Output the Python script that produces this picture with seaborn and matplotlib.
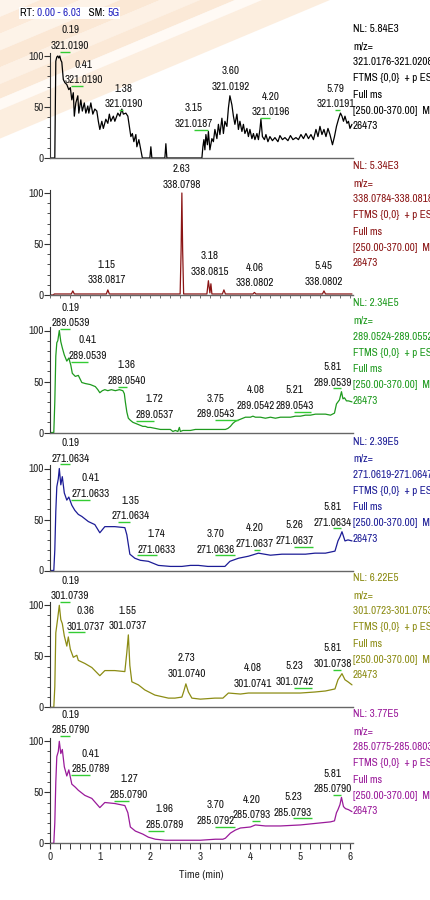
import matplotlib
matplotlib.use("Agg")
import matplotlib.pyplot as plt
import seaborn as sns
import pandas as pd
from matplotlib.patches import Polygon
from matplotlib.ticker import MultipleLocator, FixedLocator

sns.set_theme(style="white")
plt.rcParams["font.family"] = ["Archivo Narrow", "Liberation Sans Narrow", "DejaVu Sans"]

# ---------------- data ----------------
t1 = [0, 0.09, 0.11, 0.13, 0.15, 0.17, 0.19, 0.21, 0.23, 0.26, 0.29, 0.33, 0.37, 0.40, 0.43, 0.46, 0.48,
      0.51, 0.55, 0.57, 0.61, 0.64, 0.68, 0.71, 0.75, 0.77, 0.81, 0.85, 0.89, 0.93, 0.96, 0.99, 1.03,
      1.06, 1.11, 1.15, 1.18, 1.21, 1.26, 1.29, 1.35, 1.39, 1.43, 1.46, 1.51, 1.55, 1.58, 1.61, 1.64,
      1.67, 1.71, 1.73, 1.77, 1.81, 1.84, 1.99, 2.01, 2.03, 2.29, 2.31, 2.33, 3.03, 3.05, 3.07, 3.09,
      3.11, 3.14, 3.16, 3.19, 3.23, 3.26, 3.29, 3.33, 3.36, 3.39, 3.43, 3.46, 3.49, 3.53, 3.56, 3.59,
      3.63, 3.66, 3.69, 3.73, 3.76, 3.79, 3.83, 3.86, 3.89, 3.93, 3.96, 3.99, 4.03, 4.06, 4.09, 4.13,
      4.16, 4.19, 4.21, 4.24, 4.28, 4.31, 4.35, 4.39, 4.44, 4.49, 4.55, 4.59, 4.64, 4.69, 4.75, 4.80,
      4.85, 4.91, 4.96, 5.01, 5.06, 5.11, 5.16, 5.21, 5.26, 5.31, 5.35, 5.39, 5.43, 5.47, 5.51, 5.55,
      5.59, 5.64, 5.68, 5.72, 5.76, 5.80, 5.83, 5.86, 5.89, 5.93, 5.96, 5.99, 6.03]
i1 = [0, 0, 95, 99, 100, 98, 100, 96, 94, 77, 74, 72, 67, 69, 57, 64, 41,
      54, 61, 44, 57, 46, 54, 44, 51, 44, 54, 43, 48, 46, 36, 28, 36,
      29, 38, 34, 43, 36, 41, 36, 44, 41, 48, 43, 44, 41, 31, 21, 24,
      16, 23, 11, 18, 8, 0, 0, 11, 0, 0, 14, 0, 0, 11, 18, 8,
      23, 13, 26, 8, 19, 16, 28, 19, 33, 23, 39, 24, 36, 31, 49, 61,
      52, 41, 33, 43, 28, 36, 26, 33, 24, 29, 21, 28, 19, 24, 18, 24,
      18, 28, 38, 21, 18, 23, 16, 21, 17, 20, 16, 22, 18, 20, 17, 22,
      18, 20, 18, 23, 19, 24, 19, 23, 18, 28, 21, 31, 23, 28, 21, 29,
      23, 13, 21, 31, 38, 44, 41, 36, 41, 34, 36, 29, 33]

t2 = [0, 0.06, 0.08, 0.42, 0.45, 0.48, 1.12, 1.15, 1.18, 2.595, 2.615, 2.63, 2.645, 2.665, 3.13,
      3.16, 3.19, 3.21, 3.23, 3.44, 3.47, 3.50, 4.05, 4.08, 4.11, 5.44, 5.47, 5.50, 6.03]
i2 = [0, 0, 1, 1, 4, 1, 1, 5, 1, 1, 45, 100, 45, 1, 1,
      14, 2, 11, 1, 1, 5, 1, 1, 2.5, 1, 1, 4, 1, 1]

t3 = [0, 0.07, 0.09, 0.11, 0.13, 0.15, 0.18, 0.21, 0.24, 0.28, 0.33, 0.37, 0.41, 0.44, 0.50, 0.56,
      0.63, 0.70, 0.80, 0.90, 0.95, 0.99, 1.04, 1.09, 1.15, 1.22, 1.30, 1.38, 1.45, 1.48, 1.50, 1.53,
      1.56, 1.60, 1.65, 1.70, 1.75, 1.80, 1.85, 1.90, 1.95, 2.00, 2.10, 2.20, 2.30, 2.40, 2.45, 2.50,
      2.55, 2.58, 2.60, 2.65, 2.70, 2.80, 2.90, 3.00, 3.20, 3.40, 3.50, 3.55, 3.60, 3.65, 3.70, 3.75,
      3.80, 3.90, 4.00, 4.05, 4.10, 4.20, 4.30, 4.40, 4.50, 4.60, 4.70, 4.80, 4.90, 5.00, 5.10, 5.20,
      5.30, 5.40, 5.50, 5.60, 5.68, 5.72, 5.75, 5.78, 5.82, 5.85, 5.88, 5.92, 5.96, 6.03]
i3 = [0, 0, 30, 75, 88, 90, 100, 89, 83, 76, 70, 73, 66, 58, 55, 56,
      49, 48, 47, 45, 42, 39, 41, 42, 41, 42, 41, 42, 41, 38, 30, 20,
      14, 12, 10, 9, 8, 7, 6, 6, 5, 5, 4, 3, 3, 3, 1, 2,
      1, 5, 1, 2, 2, 2, 3, 3, 3, 3, 3, 4, 6, 9, 11, 12,
      13, 15, 15, 16, 15, 15, 14, 15, 14, 15, 15, 15, 16, 16, 17, 17,
      18, 18, 18, 17, 19, 28, 30, 32, 40, 33, 34, 31, 31, 30]

t4 = [0, 0.07, 0.09, 0.11, 0.13, 0.16, 0.18, 0.21, 0.24, 0.28, 0.33, 0.37, 0.43, 0.49, 0.56, 0.63,
      0.76, 0.89, 0.99, 1.09, 1.29, 1.49, 1.53, 1.59, 1.69, 1.80, 1.96, 2.16, 2.40, 2.63, 2.80, 2.96,
      3.15, 3.29, 3.49, 3.59, 3.76, 3.96, 4.16, 4.40, 4.63, 4.90, 5.10, 5.29, 5.50, 5.69, 5.75, 5.79,
      5.83, 5.89, 5.95, 6.03]
i4 = [0, 0, 20, 58, 82, 90, 100, 84, 92, 76, 69, 72, 64, 59, 55, 53,
      48, 45, 37, 43, 43, 42, 35, 16, 12, 10, 9, 5, 4, 4, 5, 5,
      4, 4, 4, 9, 12, 14, 17, 15, 16, 16, 16, 17, 17, 19, 29, 33,
      38, 29, 30, 29]

t5 = [0, 0.07, 0.09, 0.11, 0.15, 0.18, 0.21, 0.24, 0.28, 0.33, 0.36, 0.40, 0.46, 0.53, 0.56, 0.69,
      0.83, 0.99, 1.09, 1.29, 1.49, 1.53, 1.56, 1.59, 1.63, 1.76, 1.89, 2.09, 2.36, 2.49, 2.63, 2.67,
      2.71, 2.76, 2.83, 3.00, 3.29, 3.45, 3.56, 3.80, 3.96, 4.30, 4.63, 5.00, 5.29, 5.50, 5.69, 5.75,
      5.79, 5.83, 5.89, 5.95, 6.03]
i5 = [0, 0, 20, 73, 88, 100, 86, 82, 70, 60, 69, 57, 49, 51, 46, 43,
      39, 31, 36, 36, 35, 54, 71, 41, 25, 22, 17, 12, 9, 9, 10, 16,
      23, 15, 9, 8, 9, 9, 14, 13, 14, 14, 14, 14, 15, 16, 18, 27,
      30, 33, 27, 25, 22]

t6 = [0, 0.07, 0.09, 0.11, 0.13, 0.16, 0.18, 0.21, 0.24, 0.28, 0.33, 0.37, 0.43, 0.50, 0.56, 0.69,
      0.83, 0.99, 1.09, 1.29, 1.49, 1.55, 1.60, 1.70, 1.85, 1.96, 2.10, 2.30, 2.50, 2.70, 3.00, 3.30,
      3.45, 3.50, 3.60, 3.70, 3.80, 4.00, 4.10, 4.30, 4.60, 5.00, 5.20, 5.40, 5.60, 5.68, 5.72, 5.75,
      5.79, 5.82, 5.86, 5.90, 5.96, 6.03]
i6 = [0, 0, 20, 60, 85, 90, 100, 88, 92, 75, 66, 72, 58, 55, 52, 47,
      44, 35, 40, 39, 37, 30, 16, 12, 9, 6, 4, 3, 3, 3, 3, 4,
      4, 5, 10, 13, 15, 16, 18, 17, 17, 18, 19, 20, 21, 22, 30, 33,
      38, 45, 36, 34, 33, 31]

rt_labels = [
    ["0.19", "0.41", "1.38", "3.15", "3.60", "4.20", "5.79"],
    ["1.15", "2.63", "3.18", "4.06", "5.45"],
    ["0.19", "0.41", "1.36", "1.72", "3.75", "4.08", "5.21", "5.81"],
    ["0.19", "0.41", "1.35", "1.74", "3.70", "4.20", "5.26", "5.81"],
    ["0.19", "0.36", "1.55", "2.73", "4.08", "5.23", "5.81"],
    ["0.19", "0.41", "1.27", "1.96", "3.70", "4.20", "5.23", "5.81"],
]
mz_labels = [
    ["321.0190", "321.0190", "321.0190", "321.0187", "321.0192", "321.0196", "321.0191"],
    ["338.0817", "338.0798", "338.0815", "338.0802", "338.0802"],
    ["289.0539", "289.0539", "289.0540", "289.0537", "289.0543", "289.0542", "289.0543", "289.0539"],
    ["271.0634", "271.0633", "271.0634", "271.0633", "271.0636", "271.0637", "271.0637", "271.0634"],
    ["301.0739", "301.0737", "301.0737", "301.0740", "301.0741", "301.0742", "301.0738"],
    ["285.0790", "285.0789", "285.0790", "285.0789", "285.0792", "285.0793", "285.0793", "285.0790"],
]
nl_values = ["5.84E3", "5.34E3", "2.34E5", "2.39E5", "6.22E5", "3.77E5"]
mz_ranges = ["321.0176-321.0208", "338.0784-338.0818", "289.0524-289.0552",
             "271.0619-271.0647", "301.0723-301.0753", "285.0775-285.0803"]
x_ticks = [0, 1, 2, 3, 4, 5, 6]
y_ticks = [0, 50, 100]

# ---------------- layout (label placement, not data) ----------------
lab_x = [
    [0.40, 0.66, 1.46, 2.87, 3.60, 4.40, 5.70],
    [1.13, 2.63, 3.19, 4.08, 5.47],
    [0.40, 0.75, 1.53, 2.08, 3.30, 4.10, 4.88, 5.65],
    [0.40, 0.80, 1.60, 2.13, 3.30, 4.08, 4.88, 5.65],
    [0.40, 0.70, 1.55, 2.73, 4.05, 4.88, 5.65],
    [0.40, 0.80, 1.57, 2.28, 3.30, 4.03, 4.85, 5.65],
]
lab_y = [
    [110, 76, 52.5, 33.5, 70, 45, 52.5],
    [14.7, 108, 23, 11.4, 13],
    [107, 75, 50.5, 17.2, 18.1, 26, 26, 48.8],
    [109.8, 75, 53, 20.5, 20.5, 26, 29, 47],
    [109, 79, 79.7, 33, 23, 25, 42.5],
    [111, 72.5, 47.4, 18, 22, 27.7, 30, 53],
]
colors = ["#000000", "#8b1515", "#1e9a1e", "#1c1c96", "#8c8c14", "#9a1a9a"]
baselines_px = [158, 295, 432.5, 570.5, 707.3, 843.3]
W, H = 431, 900
PXU = 1.02           # pixels per intensity unit
X0, XPX = 50.3, 50.03  # px of t=0, px per minute
XMAX = 6.05
YMAX = 103
FS = 8

traces = [(t1, i1), (t2, i2), (t3, i3), (t4, i4), (t5, i5), (t6, i6)]

fig = plt.figure(figsize=(W / 100, H / 100), dpi=100)

# faint watermark stripes in the background (top-left)
stripes = [(0, 40, "#fdeedf"), (40, 80, "#fadcc0"), (80, 120, "#fdecda"), (120, 160, "#f9d9ba"),
           (160, 200, "#fce8d4"), (200, 235, "#f9dbbd"), (235, 262, "#fff7ef"), (262, 330, "#fbe3cb")]
s = 0.42
for a, b, c in stripes:
    pts = [(a / W, 1), (b / W, 1), (0, 1 - b * s / H), (0, 1 - a * s / H)]
    fig.patches.append(Polygon(pts, closed=True, transform=fig.transFigure,
                               facecolor=c, edgecolor="none", alpha=0.6, zorder=-10))

for k, ((tt, ii), col) in enumerate(zip(traces, colors)):
    b = baselines_px[k]
    ax = fig.add_axes([X0 / W, 1 - b / H, XMAX * XPX / W, YMAX * PXU / H])
    ax.set_facecolor("none")
    df = pd.DataFrame({"t": tt, "i": ii})
    sns.lineplot(data=df, x="t", y="i", ax=ax, color=col, linewidth=0.9,
                 estimator=None, sort=False, legend=False)
    ax.set_xlim(0, XMAX)
    ax.set_ylim(0, YMAX)
    ax.set_xlabel("")
    ax.set_ylabel("")
    for sp in ["top", "right"]:
        ax.spines[sp].set_visible(False)
    ax.spines["left"].set_color("#333333")
    ax.spines["bottom"].set_color("#666666")
    ax.spines["left"].set_linewidth(0.8)
    ax.spines["bottom"].set_linewidth(1.0)
    ax.yaxis.set_major_locator(FixedLocator(y_ticks))
    ax.yaxis.set_minor_locator(MultipleLocator(10))
    ax.tick_params(axis="y", which="major", direction="out", length=4, width=0.8,
                   color="#333333", pad=1, labelsize=FS, left=True)
    ax.tick_params(axis="y", which="minor", direction="out", length=2.5, width=0.6,
                   color="#333333", left=True)
    ax.xaxis.set_major_locator(FixedLocator(x_ticks))
    ax.xaxis.set_minor_locator(MultipleLocator(0.2))
    if k == 5:
        ax.tick_params(axis="x", which="major", direction="out", length=4, width=0.8,
                       color="#333333", labelsize=FS, pad=2, bottom=True)
        ax.tick_params(axis="x", which="minor", direction="out", length=4, width=0.7,
                       color="#333333", bottom=True)
        ax.set_xticklabels([str(v) for v in x_ticks])
        ax.set_xlabel("Time (min)", fontsize=FS, labelpad=6)
    elif k == 1:
        ax.tick_params(axis="x", which="both", direction="out", length=2, width=0.6,
                       color="#555555", labelbottom=False, bottom=True)
    else:
        ax.tick_params(axis="x", which="both", bottom=False, labelbottom=False)
    ax.set_yticklabels([str(v) for v in y_ticks])

    # peak labels
    for rt, mz, lx, ly in zip(rt_labels[k], mz_labels[k], lab_x[k], lab_y[k]):
        ax.text(lx, ly, mz, ha="center", va="center", fontsize=FS, color="#111111", clip_on=False)
        ax.text(lx, ly + 15.2, rt, ha="center", va="center", fontsize=FS, color="#111111", clip_on=False)
        r = float(rt)
        if abs(r - lx) > 0.04:
            ax.plot([min(r, lx), max(r, lx)], [ly - 5.6, ly - 5.6], color="#33cc33",
                    lw=1.0, clip_on=False, solid_capstyle="butt")

    # right-side header text
    right_lines = ["NL: " + nl_values[k], "m/z=", mz_ranges[k] + " F",
                   "FTMS {0,0}  + p ESI", "Full ms", "[250.00-370.00]  MS", "26473"]
    offsets = [129, 111.5, 96, 80, 63, 47, 32]
    for txt, off in zip(right_lines, offsets):
        fig.text(353 / W, 1 - (b - off) / H, txt, ha="left", va="center",
                 fontsize=FS, color=col)

# top header
y_top = 1 - 13 / H
x = 20 / W
for txt, c in [("RT: ", "#000000"), ("0.00 - 6.03", "#2020c0"), ("   SM: ", "#000000"), ("5G", "#2020c0")]:
    t = fig.text(x, y_top, txt, ha="left", va="center", fontsize=FS, color=c,
                 bbox=dict(facecolor="white", edgecolor="none", pad=0.5))
    fig.canvas.draw()
    bb = t.get_window_extent()
    x = bb.x1 / W

fig.savefig("out.png", dpi=100)
